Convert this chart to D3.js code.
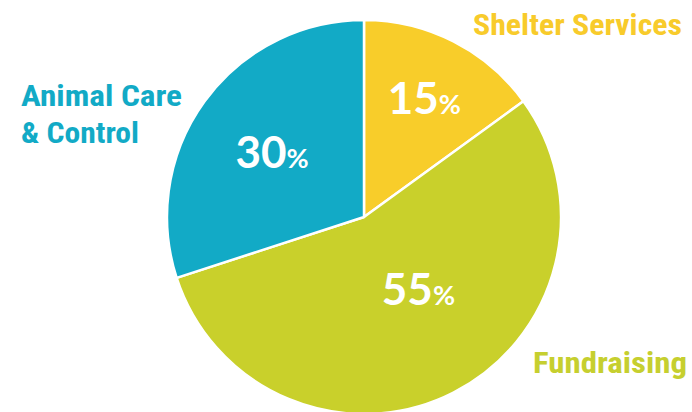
<!DOCTYPE html>
<html><head><meta charset="utf-8">
<script src="https://cdn.jsdelivr.net/npm/d3@7"></script>
<style>
html,body{margin:0;padding:0;background:#fff;}
svg{display:block;}
</style>
</head><body>
<svg id="chart" width="692" height="412"></svg>
<script>
const categories = ["Shelter Services", "Fundraising", "Animal Care & Control"];
const values = [15, 55, 30];
const colors = ["#F8CD2A", "#C9D02B", "#12AAC6"];

const W = 692, H = 412;
const cx = 364, cy = 217, R = 197;
const svg = d3.select("#chart");
const g = svg.append("g").attr("transform", `translate(${cx},${cy})`);

const pie = d3.pie().sort(null).value(d => d.v);
const data = pie(categories.map((c, i) => ({c, v: values[i], col: colors[i]})));
const arc = d3.arc().innerRadius(0).outerRadius(R);

g.selectAll("path").data(data).join("path")
  .attr("d", arc)
  .attr("fill", d => d.data.col)
  .attr("stroke", "#fff")
  .attr("stroke-width", 2.5)
  .attr("stroke-linejoin", "round");

// percentage labels: position along slice mid-angle
const labelPos = {
  "Shelter Services": {r: 133, da: 0.0},
  "Fundraising": {r: 91, da: -0.17},
  "Animal Care & Control": {r: 112, da: -0.02}
};
data.forEach(d => {
  const p = labelPos[d.data.c];
  const a = (d.startAngle + d.endAngle) / 2 + p.da;
  const x = p.r * Math.sin(a), y = -p.r * Math.cos(a);
  const t = g.append("text")
    .attr("x", x).attr("y", y + 15)
    .attr("text-anchor", "middle")
    .attr("fill", "#fff")
    .style("font-family", "Lato, 'Open Sans', sans-serif")
    .style("font-weight", "700");
  t.append("tspan").style("font-size", "44px").text(d.data.v);
  t.append("tspan").style("font-size", "27px").text("%");
});

// category labels
const labelFont = "'Liberation Sans Narrow', 'Roboto Condensed', 'Arial Narrow', sans-serif";
function catLabel(lines, x, y, col, size, widths) {
  lines.forEach((l, i) => {
    svg.append("text")
      .attr("x", x).attr("y", y + i * 37)
      .attr("fill", col)
      .attr("textLength", widths[i])
      .attr("lengthAdjust", "spacingAndGlyphs")
      .style("font-family", labelFont)
      .style("font-weight", "700")
      .style("font-size", size + "px")
      .text(l);
  });
}
catLabel(["Animal Care", "& Control"], 21, 106, colors[2], 29.5, [161, 118]);
catLabel(["Shelter Services"], 473, 35, "#F8CB2B", 29.5, [209]);
catLabel(["Fundraising"], 533, 373, "#C6CF2F", 29.5, [154]);
</script>
</body></html>
